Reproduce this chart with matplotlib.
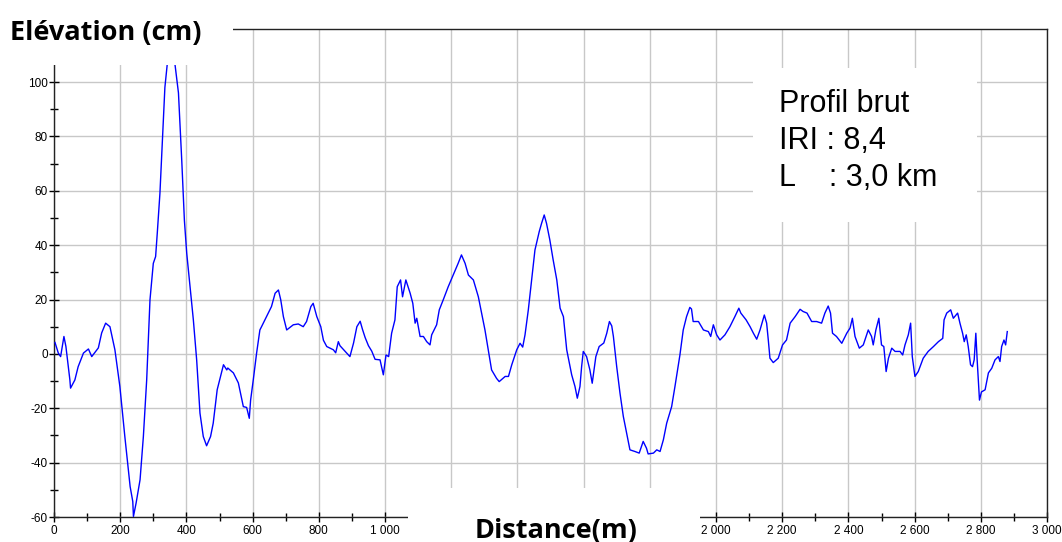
import matplotlib
matplotlib.use("Agg")
import matplotlib.pyplot as plt
from matplotlib.patches import Rectangle
from matplotlib.ticker import MultipleLocator, FuncFormatter

# profile: distance (m), elevation (cm)
dist = [3, 13, 20, 30, 36, 48, 50, 63, 73, 89, 104, 114, 134, 144, 156, 169, 184, 199,
        214, 230, 238, 240, 248, 260, 270, 280, 290, 300, 307, 312, 320, 328, 335, 345,
        352, 360, 366, 376, 386, 394, 401, 411, 421, 431, 441, 451, 461, 473, 481, 493,
        512, 522, 525, 542, 557, 572, 582, 590, 594, 602, 612, 622, 627, 642, 657, 668,
        678, 685, 693, 703, 723, 738, 753, 763, 776, 783, 794, 806, 814, 824, 844, 851,
        859, 864, 879, 894, 905, 915, 925, 932, 940, 950, 960, 970, 985, 995, 1003, 1011,
        1020, 1030, 1037, 1047, 1053, 1063, 1076, 1084, 1091, 1096, 1106, 1116, 1126,
        1136, 1141, 1156, 1164, 1176, 1191, 1206, 1221, 1231, 1242, 1252, 1267, 1282,
        1292, 1302, 1312, 1322, 1337, 1345, 1363, 1373, 1383, 1398, 1408, 1416, 1423,
        1433, 1443, 1453, 1466, 1473, 1481, 1488, 1498, 1508, 1519, 1529, 1539, 1549,
        1564, 1574, 1581, 1589, 1594, 1599, 1609, 1619, 1626, 1637, 1647, 1661, 1670,
        1678, 1685, 1690, 1700, 1710, 1720, 1730, 1740, 1755, 1768, 1780, 1790, 1795,
        1811, 1821, 1831, 1841, 1851, 1866, 1876, 1891, 1901, 1911, 1921, 1926, 1931,
        1947, 1962, 1977, 1984, 1992, 2002, 2012, 2027, 2042, 2057, 2069, 2075, 2091,
        2103, 2113, 2123, 2133, 2146, 2153, 2158, 2163, 2173, 2188, 2201, 2213, 2224,
        2239, 2254, 2263, 2275, 2289, 2304, 2319, 2329, 2339, 2346, 2352, 2364, 2380,
        2395, 2405, 2412, 2420, 2433, 2445, 2460, 2470, 2475, 2483, 2492, 2500, 2507,
        2514, 2521, 2531, 2541, 2556, 2564, 2571, 2581, 2588, 2593, 2601, 2611, 2626,
        2641, 2657, 2672, 2685, 2689, 2697, 2709, 2717, 2730, 2737, 2745, 2750, 2756,
        2762, 2769, 2775, 2780, 2785, 2789, 2796, 2802, 2813, 2823, 2833, 2843, 2853,
        2858, 2863, 2870, 2875, 2880]
elev = [4.2, 0.3, -1, 6.4, 2.7, -9.6, -12.6, -9.6, -4.7, 0.3, 1.8, -1, 2.2, 7.7, 11.3,
        10, 1.5, -12, -30.4, -48.8, -54.3, -59.8, -54.9, -46.3, -30.4, -9.6, 19.9, 33.3,
        35.8, 44.4, 59, 80, 98, 110, 113, 110, 106, 96, 71, 49, 37, 24.7, 12.5, -2.2,
        -21.8, -30.4, -33.8, -30.4, -25.5, -13.2, -4, -5.9, -5.2, -7, -10.7, -19.4,
        -19.7, -23.7, -17, -9.6, 0.2, 8.8, 10, 13.7, 17.4, 22.3, 23.5, 19.9, 13.7, 8.8,
        10.7, 11, 10, 11.9, 17.4, 18.6, 13.7, 10, 5, 2.7, 1.5, 0.4, 4.5, 3, 1, -1, 4, 10,
        12, 9, 6, 3, 1, -2, -2.2, -7.7, -0.4, -1, 7.6, 12.5, 24.7, 27.2, 21, 27.2, 22.3,
        18.6, 11.3, 13.1, 6.4, 6.4, 4.5, 3.3, 7, 10.7, 16.2, 19.9, 24.7, 29, 33.3, 36.4,
        33.3, 29, 27.2, 21, 15, 8.8, 1.5, -5.9, -9, -10.2, -8.3, -8.3, -4, 1.5, 3.9, 2.5,
        7, 16.2, 27.2, 38.2, 45, 48, 51.1, 48, 41.9, 34.6, 27.2, 16.8, 13.7, 1.5, -7.7,
        -12, -16.3, -12, -4.7, 0.9, -1, -5.9, -10.8, -1, 2.7, 4, 7.6, 11.9, 10.3, 6.4,
        -4.7, -14.5, -23, -29.2, -35.3, -35.9, -36.5, -32.2, -34.7, -36.8, -36.5, -35.3,
        -35.9, -31.6, -25.5, -19.4, -12, -0.4, 8.8, 13.7, 17.1, 16.5, 11.9, 11.9, 8.8,
        8.2, 6.4, 10.7, 7, 5.1, 7, 10, 13.7, 16.8, 15, 12.5, 10, 7.6, 5.4, 8.8, 14.3,
        11.3, 5.1, -1.6, -3.2, -1.6, 3.3, 5.1, 11.3, 13.7, 16.4, 15.6, 15, 11.9, 11.9,
        11.3, 15, 17.6, 15, 7.6, 6.4, 3.9, 7.6, 9.5, 13.1, 6.4, 2.1, 3.3, 8.8, 6.4, 3.3,
        8.8, 13.1, 3.3, 2.7, -6.5, -1.6, 2.1, 0.9, 0.9, -0.4, 3.3, 7, 11.3, -1, -8.3,
        -6.5, -1.6, 0.9, 2.7, 4.5, 5.7, 12.5, 15, 16.2, 13.1, 15, 11.3, 7.6, 4.5, 7,
        2.7, -4, -4.7, -2.2, 7.6, -2.2, -17, -14, -13.2, -7, -5.3, -2.2, -1, -2.8, 2.7,
        5.1, 3.3, 8.2]

info_lines = ["Profil brut", "IRI : 8,4", "L    : 3,0 km"]
hidden_xlabels = [1200, 1400, 1600, 1800]  # covered by the "Distance(m)" label


def xfmt(v, p):
    if int(v) in hidden_xlabels:
        return ""
    return f"{int(v):,}".replace(",", " ")


W, H = 1062, 542
fig = plt.figure(figsize=(W / 100, H / 100), dpi=100)
ax = fig.add_axes([54 / W, 1 - 517 / H, (1047 - 54) / W, (517 - 29) / H])

ax.plot(dist, elev, color="#0000ff", lw=1.0, zorder=3)
ax.set_xlim(0, 3000)
ax.set_ylim(-60, 119.5)

ax.xaxis.set_major_locator(MultipleLocator(200))
ax.xaxis.set_minor_locator(MultipleLocator(100))
ax.yaxis.set_major_locator(MultipleLocator(20))
ax.yaxis.set_minor_locator(MultipleLocator(10))
ax.xaxis.set_major_formatter(FuncFormatter(xfmt))
ax.yaxis.set_major_formatter(FuncFormatter(lambda v, p: str(int(v))))
ax.tick_params(which="major", direction="inout", length=7, width=1, labelsize=8.5,
               colors="black")
ax.tick_params(which="minor", direction="inout", length=6, width=1)
ax.tick_params(axis="x", pad=2)
ax.tick_params(axis="y", pad=1)
for lab in ax.get_xticklabels() + ax.get_yticklabels():
    lab.set_fontfamily("Liberation Sans")

ax.grid(True, which="major", color="#c8c8c8", lw=1)
ax.set_axisbelow(True)
for s in ax.spines.values():
    s.set_color("#222222")
    s.set_linewidth(1)


def white_box(x0, y0, x1, y1):
    fig.patches.append(Rectangle((x0 / W, 1 - y1 / H), (x1 - x0) / W, (y1 - y0) / H,
                                 transform=fig.transFigure, facecolor="white",
                                 edgecolor="none", zorder=5))


# pasted-over areas of the original figure
white_box(0, 0, 233, 65)
white_box(408, 488, 700, 542)
white_box(753, 68, 977, 222)

fig.text(10 / W, 1 - 40 / H, "Elévation (cm)", fontsize=19.5, fontweight="bold",
         family="Open Sans", va="baseline", zorder=6)
fig.text(475 / W, 1 - 538 / H, "Distance(m)", fontsize=19.5, fontweight="bold",
         family="Open Sans", va="baseline", zorder=6)
for i, line in enumerate(info_lines):
    fig.text(779 / W, 1 - (112 + 37 * i) / H, line, fontsize=22, family="Liberation Sans",
             va="baseline", zorder=6)

fig.savefig("out.png", dpi=100)
